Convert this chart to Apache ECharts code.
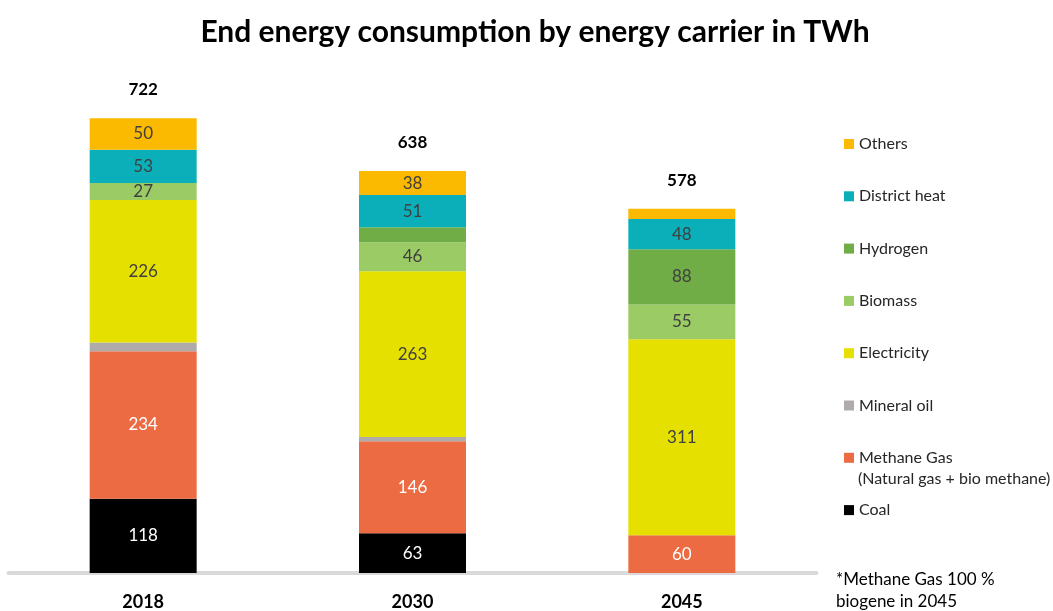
<!DOCTYPE html>
<html>
<head>
<meta charset="utf-8">
<script src="https://cdn.jsdelivr.net/npm/echarts@6/dist/echarts.min.js"></script>
<style>
  html, body { margin: 0; padding: 0; background: #fff; }
  #chart { width: 1053px; height: 611px; }
</style>
</head>
<body>
<div id="chart"></div>
<script>
const years = ['2018', '2030', '2045']
const coal = [118, 63, 0]
const methane = [234, 146, 60]
const mineralOil = [14, 7, 0]
const electricity = [226, 263, 311]
const biomass = [27, 46, 55]
const hydrogen = [0, 24, 88]
const districtHeat = [53, 51, 48]
const others = [50, 38, 16]
const totals = [722, 638, 578]
const legendOrder = ['Others', 'District heat', 'Hydrogen', 'Biomass', 'Electricity', 'Mineral oil', 'Methane Gas', 'Coal']

const font = 'Lato'
const darkLabel = '#404040'

// stacked from bottom to top
const carriers = [
  { name: 'Coal', data: coal, color: '#000000', labelColor: '#ffffff' },
  { name: 'Methane Gas', data: methane, color: '#EC6B43', labelColor: '#ffffff' },
  { name: 'Mineral oil', data: mineralOil, color: '#AFABAB', labelColor: darkLabel },
  { name: 'Electricity', data: electricity, color: '#E6E000', labelColor: darkLabel },
  { name: 'Biomass', data: biomass, color: '#9BCB64', labelColor: darkLabel },
  { name: 'Hydrogen', data: hydrogen, color: '#70AD47', labelColor: darkLabel },
  { name: 'District heat', data: districtHeat, color: '#0AAFB9', labelColor: darkLabel },
  { name: 'Others', data: others, color: '#FBB900', labelColor: darkLabel }
]

const series = carriers.map(c => ({
  name: c.name,
  type: 'bar',
  stack: 'total',
  barWidth: 107,
  data: c.data,
  itemStyle: { color: c.color },
  label: {
    show: true,
    color: c.labelColor,
    fontFamily: font,
    fontSize: 17,
    formatter: p => (p.value >= 25 ? p.value : '')
  },
  emphasis: { disabled: true }
}))

series.push({
  name: 'Total',
  type: 'bar',
  stack: 'total',
  barWidth: 107,
  data: years.map(() => 0),
  itemStyle: { color: 'transparent' },
  label: {
    show: true,
    position: 'top',
    distance: 20,
    color: '#000',
    fontFamily: font,
    fontWeight: 'bold',
    fontSize: 17,
    formatter: p => totals[p.dataIndex]
  }
})

const chart = echarts.init(document.getElementById('chart'))
chart.setOption({
  animation: false,
  title: {
    text: 'End energy consumption by energy carrier in TWh',
    left: 530,
    textAlign: 'center',
    top: 12,
    textStyle: { fontFamily: font, fontWeight: 'bold', fontSize: 30, color: '#000' }
  },
  grid: { left: 8.5, right: 236.5, top: 69, bottom: 37 },
  xAxis: {
    type: 'category',
    data: years,
    axisLine: { lineStyle: { color: '#D9D9D9', width: 4 } },
    axisTick: { show: false },
    axisLabel: { margin: 20, color: '#000', fontFamily: font, fontWeight: 'bold', fontSize: 18 }
  },
  yAxis: {
    type: 'value',
    min: 0,
    max: 800,
    show: false,
    splitLine: { show: false }
  },
  legend: {
    orient: 'vertical',
    left: 839,
    top: 131,
    itemWidth: 10,
    itemHeight: 10,
    itemGap: 36.3,
    icon: 'rect',
    textStyle: { fontFamily: font, fontSize: 16, color: '#262626' },
    data: legendOrder,
    selectedMode: false
  },
  graphic: [
    {
      type: 'text',
      left: 858,
      top: 471,
      style: { text: '(Natural gas + bio methane)', fontFamily: font, fontSize: 16, fill: '#262626' }
    },
    {
      type: 'text',
      left: 836,
      top: 569,
      style: {
        text: '*Methane Gas 100 %\nbiogene in 2045',
        fontFamily: font,
        fontSize: 17,
        lineHeight: 22,
        fill: '#000'
      }
    }
  ],
  series: series
})
</script>
</body>
</html>
